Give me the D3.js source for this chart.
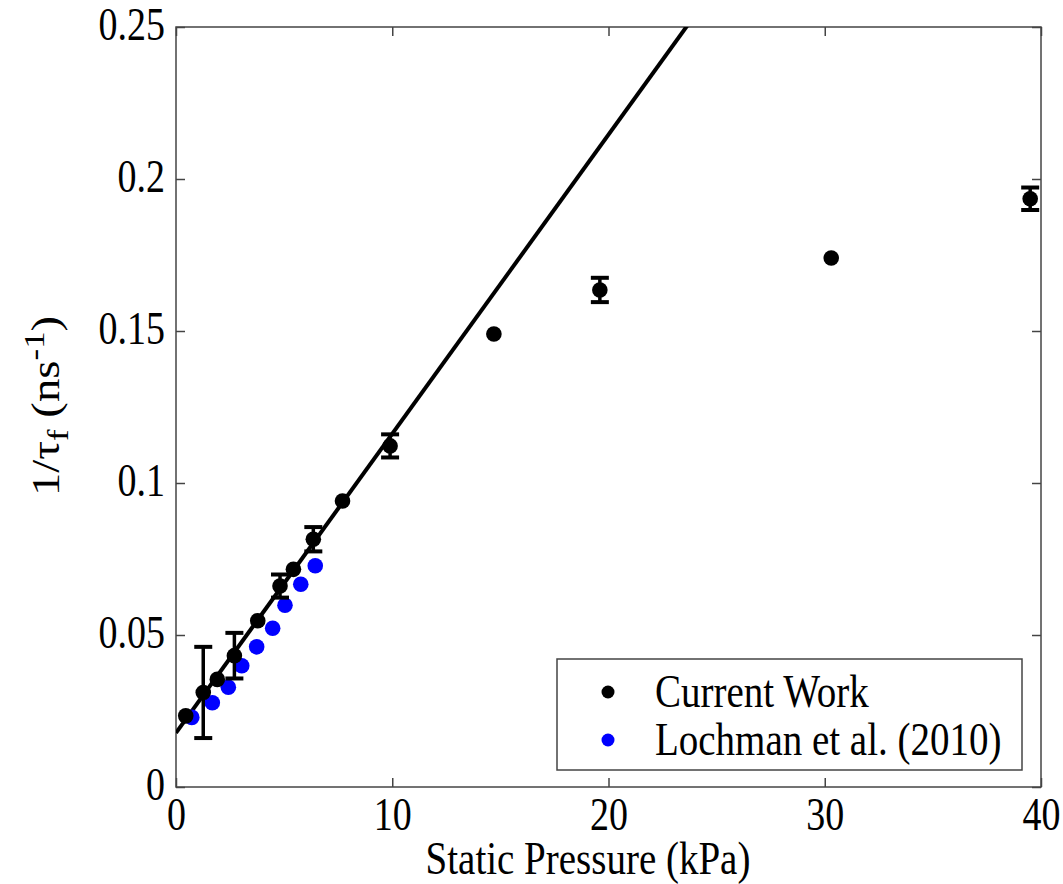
<!DOCTYPE html>
<html><head><meta charset="utf-8">
<script src="https://cdn.jsdelivr.net/npm/d3@7"></script>
<style>body{margin:0;background:#fff} text{font-family:"Liberation Serif","Times New Roman",serif}</style>
</head><body>
<svg id="c" width="1063" height="884"></svg>
<script>
// Current Work: pressure (kPa), 1/tau_f (ns^-1), error (null = no bar)
const currentX   = [0.45, 1.26, 1.91, 2.70, 3.78, 4.81, 5.43, 6.35, 7.7, 9.9, 14.7, 19.6, 30.3, 39.5];
const currentY   = [0.0234, 0.0311, 0.0354, 0.0432, 0.0547, 0.0661, 0.0716, 0.0815, 0.0941, 0.1122, 0.149, 0.1635, 0.174, 0.1935];
const currentErr = [null, 0.0150, null, 0.0075, null, 0.0038, null, 0.0040, null, 0.0038, null, 0.0040, null, 0.0037];
// Lochman et al. (2010)
const lochX = [0.73, 1.68, 2.42, 3.04, 3.73, 4.47, 5.04, 5.77, 6.44];
const lochY = [0.0229, 0.0277, 0.0328, 0.0399, 0.0461, 0.0522, 0.0598, 0.0667, 0.0728];
// linear fit: y = a + b x
const fitA = 0.0178, fitB = 0.00984;
const fitX = [0, 26];
const xTicks = [0, 10, 20, 30, 40];
const yTicks = [0, 0.05, 0.1, 0.15, 0.2, 0.25];
const yTickLabels = ["0", "0.05", "0.1", "0.15", "0.2", "0.25"];
const legendLabels = ["Current Work", "Lochman et al. (2010)"];
const legendColors = ["#000000", "#0000ff"];

const svg = d3.select("#c");
const L = 176, R = 1041, T = 27, B = 787;
const x = d3.scaleLinear().domain([0, 40]).range([L, R]);
const y = d3.scaleLinear().domain([0, 0.25]).range([B, T]);
const font = '"Liberation Serif", "Times New Roman", serif';
const fsTick = 38, fs = 39, SY = 1.2;
const axisColor = "#444";

function stretch(sel) {
  sel.each(function () {
    const t = d3.select(this);
    const tx = +t.attr("x") || 0, ty = +t.attr("y") || 0;
    t.attr("x", 0).attr("y", 0).attr("transform", `translate(${tx},${ty}) scale(1,${SY})`);
  });
}

svg.append("defs").append("clipPath").attr("id", "clip")
  .append("rect").attr("x", L).attr("y", T).attr("width", R - L).attr("height", B - T);

function styleAxis(g) {
  g.attr("font-family", null).attr("font-size", null);
  g.select(".domain").remove();
  g.selectAll(".tick line").attr("stroke", axisColor).attr("stroke-width", 1.5);
  g.selectAll("text").style("font-family", font).style("font-size", fsTick + "px").attr("fill", "#000");
}
const gxB = svg.append("g").attr("transform", `translate(0,${B})`)
  .call(d3.axisBottom(x).tickValues(xTicks).tickFormat(d3.format("d")).tickSizeInner(-9).tickSizeOuter(0));
styleAxis(gxB);
gxB.selectAll("text").attr("y", 43).attr("dy", 0);
stretch(gxB.selectAll("text"));
const gxT = svg.append("g").attr("transform", `translate(0,${T})`)
  .call(d3.axisTop(x).tickValues(xTicks).tickFormat("").tickSizeInner(-9).tickSizeOuter(0));
styleAxis(gxT);
const gyL = svg.append("g").attr("transform", `translate(${L},0)`)
  .call(d3.axisLeft(y).tickValues(yTicks).tickFormat((d, i) => yTickLabels[i]).tickSizeInner(-9).tickSizeOuter(0).tickPadding(11));
styleAxis(gyL);
gyL.selectAll("text").attr("dy", "0.27em");
stretch(gyL.selectAll("text"));
const gyR = svg.append("g").attr("transform", `translate(${R},0)`)
  .call(d3.axisRight(y).tickValues(yTicks).tickFormat("").tickSizeInner(-9).tickSizeOuter(0));
styleAxis(gyR);

svg.append("rect").attr("x", L).attr("y", T).attr("width", R - L).attr("height", B - T)
  .attr("fill", "none").attr("stroke", axisColor).attr("stroke-width", 1.5);

const plot = svg.append("g").attr("clip-path", "url(#clip)");

plot.append("line")
  .attr("x1", x(fitX[0])).attr("y1", y(fitA + fitB * fitX[0]))
  .attr("x2", x(fitX[1])).attr("y2", y(fitA + fitB * fitX[1]))
  .attr("stroke", "#000").attr("stroke-width", 4);

plot.selectAll("circle.loch").data(lochX.map((v, i) => [v, lochY[i]])).enter()
  .append("circle").attr("class", "loch")
  .attr("cx", d => x(d[0])).attr("cy", d => y(d[1])).attr("r", 7.8).attr("fill", "#0000ff");

const cur = currentX.map((v, i) => ({x: v, y: currentY[i], e: currentErr[i]}));
const eb = plot.selectAll("g.eb").data(cur.filter(d => d.e != null)).enter().append("g");
const cap = 9;
eb.append("line").attr("x1", d => x(d.x)).attr("x2", d => x(d.x))
  .attr("y1", d => y(d.y - d.e)).attr("y2", d => y(d.y + d.e)).attr("stroke", "#000").attr("stroke-width", 3.5);
eb.append("line").attr("x1", d => x(d.x) - cap).attr("x2", d => x(d.x) + cap)
  .attr("y1", d => y(d.y - d.e)).attr("y2", d => y(d.y - d.e)).attr("stroke", "#000").attr("stroke-width", 4);
eb.append("line").attr("x1", d => x(d.x) - cap).attr("x2", d => x(d.x) + cap)
  .attr("y1", d => y(d.y + d.e)).attr("y2", d => y(d.y + d.e)).attr("stroke", "#000").attr("stroke-width", 4);
plot.selectAll("circle.cur").data(cur).enter()
  .append("circle").attr("class", "cur")
  .attr("cx", d => x(d.x)).attr("cy", d => y(d.y)).attr("r", 7.8).attr("fill", "#000");

const lg = svg.append("g");
lg.append("rect").attr("x", 557).attr("y", 659).attr("width", 465).attr("height", 111)
  .attr("fill", "#fff").attr("stroke", axisColor).attr("stroke-width", 1.5);
legendLabels.forEach((t, i) => {
  const cy = 692 + i * 48;
  lg.append("circle").attr("cx", 608).attr("cy", cy).attr("r", 6.5).attr("fill", legendColors[i]);
  const tx = lg.append("text").attr("x", 655).attr("y", cy + 15)
    .style("font-family", font).style("font-size", fs + "px").text(t);
  stretch(tx);
});

const xl = svg.append("text").attr("x", 588).attr("y", 874).attr("text-anchor", "middle")
  .style("font-family", font).style("font-size", fs + "px").text("Static Pressure (kPa)");
stretch(xl);

const yl = svg.append("text").attr("transform", `translate(59,406) rotate(-90) scale(${SY},1)`)
  .attr("text-anchor", "middle").style("font-family", font).style("font-size", fs + "px");
yl.append("tspan").text("1/τ");
yl.append("tspan").style("font-size", "29px").attr("dy", 9).text("f");
yl.append("tspan").attr("dy", -9).text(" (ns");
yl.append("tspan").style("font-size", "29px").attr("dy", -15).text("-1");
yl.append("tspan").attr("dy", 15).text(")");
</script>
</body></html>
